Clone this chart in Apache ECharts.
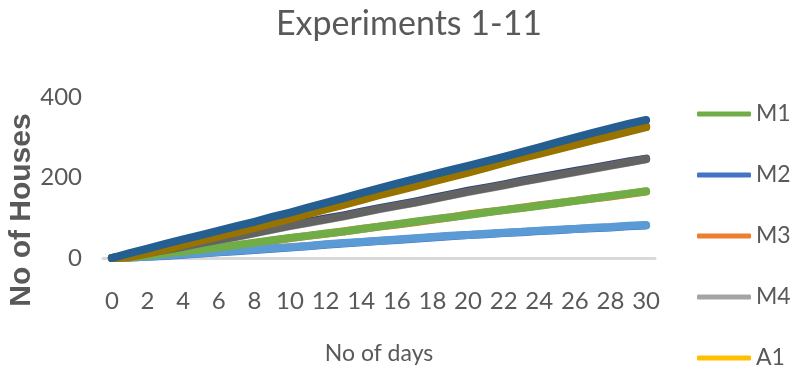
<!DOCTYPE html>
<html>
<head>
<meta charset="utf-8">
<script src="https://cdn.jsdelivr.net/npm/echarts@6/dist/echarts.min.js"></script>
<style>
  html, body { margin: 0; padding: 0; background: #ffffff; }
  #chart { width: 790px; height: 374px; }
</style>
</head>
<body>
<div id="chart"></div>
<script>
// Day numbers along the x axis
const days = ['0','1','2','3','4','5','6','7','8','9','10','11','12','13','14','15',
              '16','17','18','19','20','21','22','23','24','25','26','27','28','29','30'];

// Cumulative number of houses per experiment
const m1 = [0, 2, 6, 11, 16, 21, 26, 32, 38, 44, 50, 55, 61, 66, 72, 78, 84, 90, 96, 101, 107, 113, 119, 124, 130, 136, 142, 148, 154, 160, 166];
const m2 = [0, 1, 3, 5, 8, 11, 14, 17, 20, 23, 26, 29, 33, 36, 39, 42, 45, 48, 51, 54, 57, 59, 62, 64, 67, 69, 72, 74, 76, 79, 81];
const m3 = [0, 2, 7, 12, 17, 22, 27, 32, 37, 43, 49, 55, 60, 66, 72, 78, 83, 89, 95, 101, 108, 114, 119, 125, 131, 136, 142, 148, 153, 159, 165];
const m4 = [0, 3, 11, 19, 27, 36, 44, 52, 61, 70, 79, 87, 95, 103, 112, 121, 129, 137, 146, 155, 164, 172, 180, 189, 197, 205, 213, 221, 229, 237, 245];
const a1 = [0, 2, 12, 22, 33, 44, 55, 65, 76, 87, 98, 110, 122, 133, 145, 157, 168, 179, 191, 202, 213, 225, 237, 249, 260, 271, 282, 293, 304, 315, 326];
const a2 = [0, 1, 3, 6, 9, 12, 15, 18, 21, 24, 27, 30, 34, 37, 40, 43, 46, 49, 52, 55, 57, 60, 63, 65, 68, 70, 72, 75, 77, 80, 82];
const a3 = [0, 5, 14, 22, 30, 39, 47, 55, 64, 73, 82, 90, 98, 106, 115, 124, 132, 140, 149, 158, 167, 175, 183, 192, 200, 208, 216, 224, 232, 240, 247];
const a4 = [0, 3, 13, 23, 34, 45, 56, 66, 77, 88, 99, 111, 123, 134, 146, 158, 169, 180, 192, 203, 214, 226, 238, 250, 261, 272, 283, 294, 305, 316, 327];
const a5 = [0, 4, 12, 20, 28, 37, 45, 53, 62, 71, 80, 88, 96, 104, 113, 122, 130, 138, 147, 156, 165, 173, 181, 190, 198, 206, 214, 222, 230, 238, 246];
const a6 = [0, 2, 11, 21, 32, 43, 54, 64, 75, 86, 97, 109, 121, 132, 144, 156, 167, 178, 190, 201, 212, 224, 236, 248, 259, 270, 281, 292, 303, 314, 325];
const a7 = [0, 12, 23, 35, 46, 57, 68, 79, 90, 102, 113, 125, 137, 149, 161, 173, 185, 196, 207, 218, 229, 240, 251, 263, 275, 287, 299, 311, 322, 333, 343];

// Y axis ticks
const yTicks = [0, 200, 400];

const names  = ['M1', 'M2', 'M3', 'M4', 'A1', 'A2', 'A3', 'A4', 'A5', 'A6', 'A7'];
const values = [m1, m2, m3, m4, a1, a2, a3, a4, a5, a6, a7];
const colors = ['#70AD47', '#4472C4', '#ED7D31', '#A5A5A5', '#FFC000', '#5B9BD5',
                '#264478', '#9E480E', '#636363', '#997300', '#255E91'];
// Painting order: the lighter hidden runs first, the darker ones on top
const drawOrder = [1, 2, 3, 4, 6, 7, 5, 0, 8, 9, 10];

const TXT = '#595959';
const FONT = 'Lato, sans-serif';

const chart = echarts.init(document.getElementById('chart'), null, { renderer: 'canvas' });

const series = drawOrder.map(i => ({
  name: names[i],
  type: 'line',
  data: values[i],
  symbol: 'none',
  smooth: false,
  color: colors[i],
  lineStyle: { width: 8, cap: 'round', join: 'round', color: colors[i] },
  emphasis: { disabled: true }
}));

chart.setOption({
  animation: false,
  backgroundColor: '#ffffff',
  title: {
    text: 'Experiments 1-11',
    left: 404,
    textAlign: 'center',
    top: 2,
    textStyle: { color: TXT, fontFamily: FONT, fontWeight: 'normal', fontSize: 34 }
  },
  legend: {
    orient: 'vertical',
    left: 697,
    top: 102,
    height: 900,
    padding: 0,
    data: names,
    icon: 'roundRect',
    itemWidth: 54,
    itemHeight: 5,
    itemGap: 37,
    textStyle: { color: TXT, fontFamily: FONT, fontSize: 23, lineHeight: 24 }
  },
  grid: { left: 103, right: 135, top: 97, bottom: 116, containLabel: false },
  xAxis: {
    type: 'category',
    data: days,
    boundaryGap: true,
    name: 'No of days',
    nameLocation: 'middle',
    nameGap: 84,
    nameTextStyle: { color: TXT, fontFamily: FONT, fontSize: 23 },
    axisLine: { lineStyle: { color: '#D9D9D9', width: 3 } },
    axisTick: { show: false },
    axisLabel: { interval: 1, color: TXT, fontFamily: FONT, fontSize: 24, margin: 31 },
    splitLine: { show: false }
  },
  yAxis: {
    type: 'value',
    min: yTicks[0],
    max: yTicks[yTicks.length - 1],
    interval: yTicks[1] - yTicks[0],
    axisLine: { show: false },
    axisTick: { show: false },
    axisLabel: { color: TXT, fontFamily: FONT, fontSize: 24, margin: 21 },
    splitLine: { show: false }
  },
  graphic: [{
    type: 'text',
    x: 22,
    y: 210,
    rotation: Math.PI / 2,
    style: {
      text: 'No of Houses',
      fill: TXT,
      font: 'bold 30px "Liberation Sans", Arial, sans-serif',
      align: 'center',
      verticalAlign: 'middle'
    }
  }],
  series: series
});
</script>
</body>
</html>
